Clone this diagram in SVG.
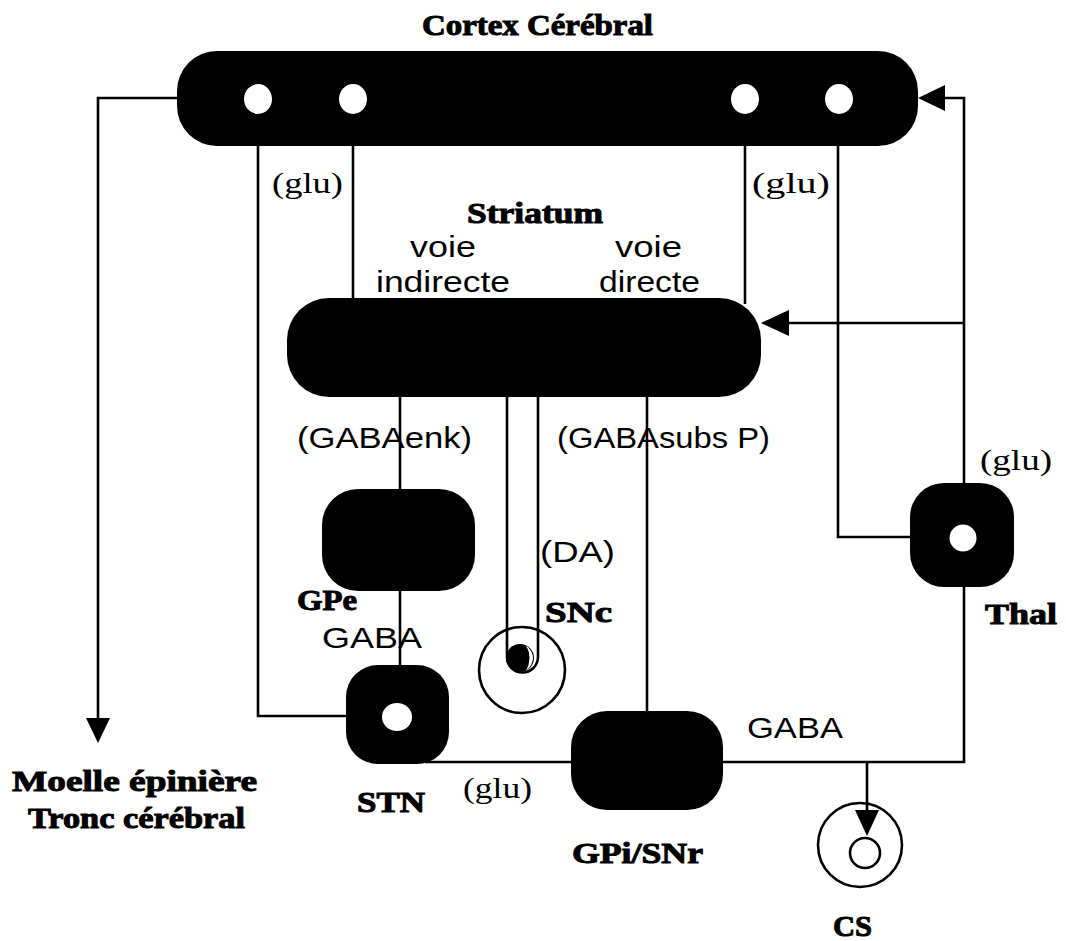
<svg xmlns="http://www.w3.org/2000/svg" width="1066" height="941" viewBox="0 0 1066 941">
<defs>
<style>
.blk{fill:#000}
.hole{fill:#fff}
.ln{fill:none;stroke:#000;stroke-width:2.6}
.sans{font-family:"Liberation Sans","DejaVu Sans",sans-serif;font-size:29px;fill:#000}
.serif{font-family:"Liberation Serif","DejaVu Serif",serif;font-size:30px;fill:#000}
.bold{font-family:"Liberation Serif","DejaVu Serif",serif;font-weight:bold;font-size:30px;fill:#000;stroke:#000;stroke-width:1}
</style>
</defs>
<rect width="1066" height="941" fill="#fff"/>

<g id="connectors">
<path class="ln" d="M177,98 H98 V720"/>
<path d="M86,718 L110,718 L98,743 Z" fill="#000"/>
<path class="ln" d="M258,146 V716 H348"/>
<path class="ln" d="M353,146 V300"/>
<path class="ln" d="M745,146 V304"/>
<path class="ln" d="M838,146 V537 H912"/>
<path class="ln" d="M964,483 V98 H945"/>
<path d="M945,85 L945,111 L918,98 Z" fill="#000"/>
<path class="ln" d="M964,323 H789"/>
<path d="M789,310 L789,336 L761,323 Z" fill="#000"/>
<path class="ln" d="M964,585 V762 H721"/>
<path class="ln" d="M573,762 H425"/>
<path class="ln" d="M647,395 V713"/>
<path class="ln" d="M400,395 V491"/>
<path class="ln" d="M400,589 V667"/>
<path class="ln" d="M867,762 V812"/>
<path d="M855,810 L879,810 L867,836 Z" fill="#000"/>
</g>

<g id="cortex">
<rect class="blk" x="177" y="51" width="741" height="95" rx="40"/>
<ellipse class="hole" cx="258" cy="99" rx="14" ry="15"/>
<ellipse class="hole" cx="353" cy="99" rx="14" ry="15"/>
<ellipse class="hole" cx="745" cy="99" rx="14" ry="15"/>
<ellipse class="hole" cx="839" cy="99" rx="14" ry="15"/>
<text class="bold" x="422" y="35" font-size="32" textLength="231" lengthAdjust="spacingAndGlyphs">Cortex Cérébral</text>
</g>

<g id="striatum">
<rect class="blk" x="287" y="298" width="474" height="99" rx="42"/>
<text class="bold" x="467" y="223" font-size="27" textLength="136" lengthAdjust="spacingAndGlyphs">Striatum</text>
<text class="sans" x="410" y="257" textLength="66" lengthAdjust="spacingAndGlyphs">voie</text>
<text class="sans" x="376" y="292" textLength="134" lengthAdjust="spacingAndGlyphs">indirecte</text>
<text class="sans" x="615" y="257" textLength="67" lengthAdjust="spacingAndGlyphs">voie</text>
<text class="sans" x="599" y="292" textLength="101" lengthAdjust="spacingAndGlyphs">directe</text>
</g>

<g id="gpe">
<rect class="blk" x="322" y="489" width="153" height="102" rx="36"/>
<text class="bold" x="297" y="610" textLength="60" lengthAdjust="spacingAndGlyphs">GPe</text>
</g>

<g id="snc">
<circle cx="522" cy="670" r="43" fill="none" stroke="#000" stroke-width="2.6"/>
<path class="ln" d="M507,395 V657 A15.5,15.5 0 0 0 538,657 V395"/>
<circle cx="520" cy="658" r="14" fill="#000"/>
<path d="M526,645 Q540,658 526,671 Q533,658 526,645 Z" fill="#fff"/>
<text class="bold" x="545" y="622" textLength="67" lengthAdjust="spacingAndGlyphs">SNc</text>
</g>

<g id="stn">
<rect class="blk" x="346" y="665" width="103" height="99" rx="32"/>
<ellipse class="hole" cx="397" cy="717" rx="15" ry="14"/>
<text class="bold" x="357" y="812" textLength="68" lengthAdjust="spacingAndGlyphs">STN</text>
</g>

<g id="gpi">
<rect class="blk" x="571" y="711" width="152" height="99" rx="36"/>
<text class="bold" x="572" y="863" textLength="131" lengthAdjust="spacingAndGlyphs">GPi/SNr</text>
</g>

<g id="thal">
<rect class="blk" x="910" y="483" width="104" height="104" rx="34"/>
<circle class="hole" cx="963" cy="538" r="13.5"/>
<text class="bold" x="985" y="624" textLength="72" lengthAdjust="spacingAndGlyphs">Thal</text>
</g>

<g id="cs">
<circle cx="860" cy="845" r="42" fill="none" stroke="#000" stroke-width="2.6"/>
<circle cx="865" cy="853" r="15" fill="none" stroke="#000" stroke-width="2.6"/>
<text class="bold" x="833" y="936" textLength="39" lengthAdjust="spacingAndGlyphs">CS</text>
</g>

<g id="moelle">
<text class="bold" x="12" y="791" font-size="32" textLength="245" lengthAdjust="spacingAndGlyphs">Moelle épinière</text>
<text class="bold" x="28" y="828" font-size="32" textLength="217" lengthAdjust="spacingAndGlyphs">Tronc cérébral</text>
</g>

<g id="labels">
<text class="serif" x="272" y="193" textLength="71" lengthAdjust="spacingAndGlyphs">(glu)</text>
<text class="serif" x="752" y="193" textLength="78" lengthAdjust="spacingAndGlyphs">(glu)</text>
<text class="serif" x="980" y="470" textLength="72" lengthAdjust="spacingAndGlyphs">(glu)</text>
<text class="serif" x="463" y="798" textLength="69" lengthAdjust="spacingAndGlyphs">(glu)</text>
<text class="sans" x="297" y="448" textLength="175" lengthAdjust="spacingAndGlyphs">(GABAenk)</text>
<text class="sans" x="557" y="448" textLength="213" lengthAdjust="spacingAndGlyphs">(GABAsubs P)</text>
<text class="sans" x="540" y="562" textLength="75" lengthAdjust="spacingAndGlyphs">(DA)</text>
<text class="sans" x="322" y="648" textLength="100" lengthAdjust="spacingAndGlyphs">GABA</text>
<text class="sans" x="747" y="738" textLength="96" lengthAdjust="spacingAndGlyphs">GABA</text>
</g>
</svg>
